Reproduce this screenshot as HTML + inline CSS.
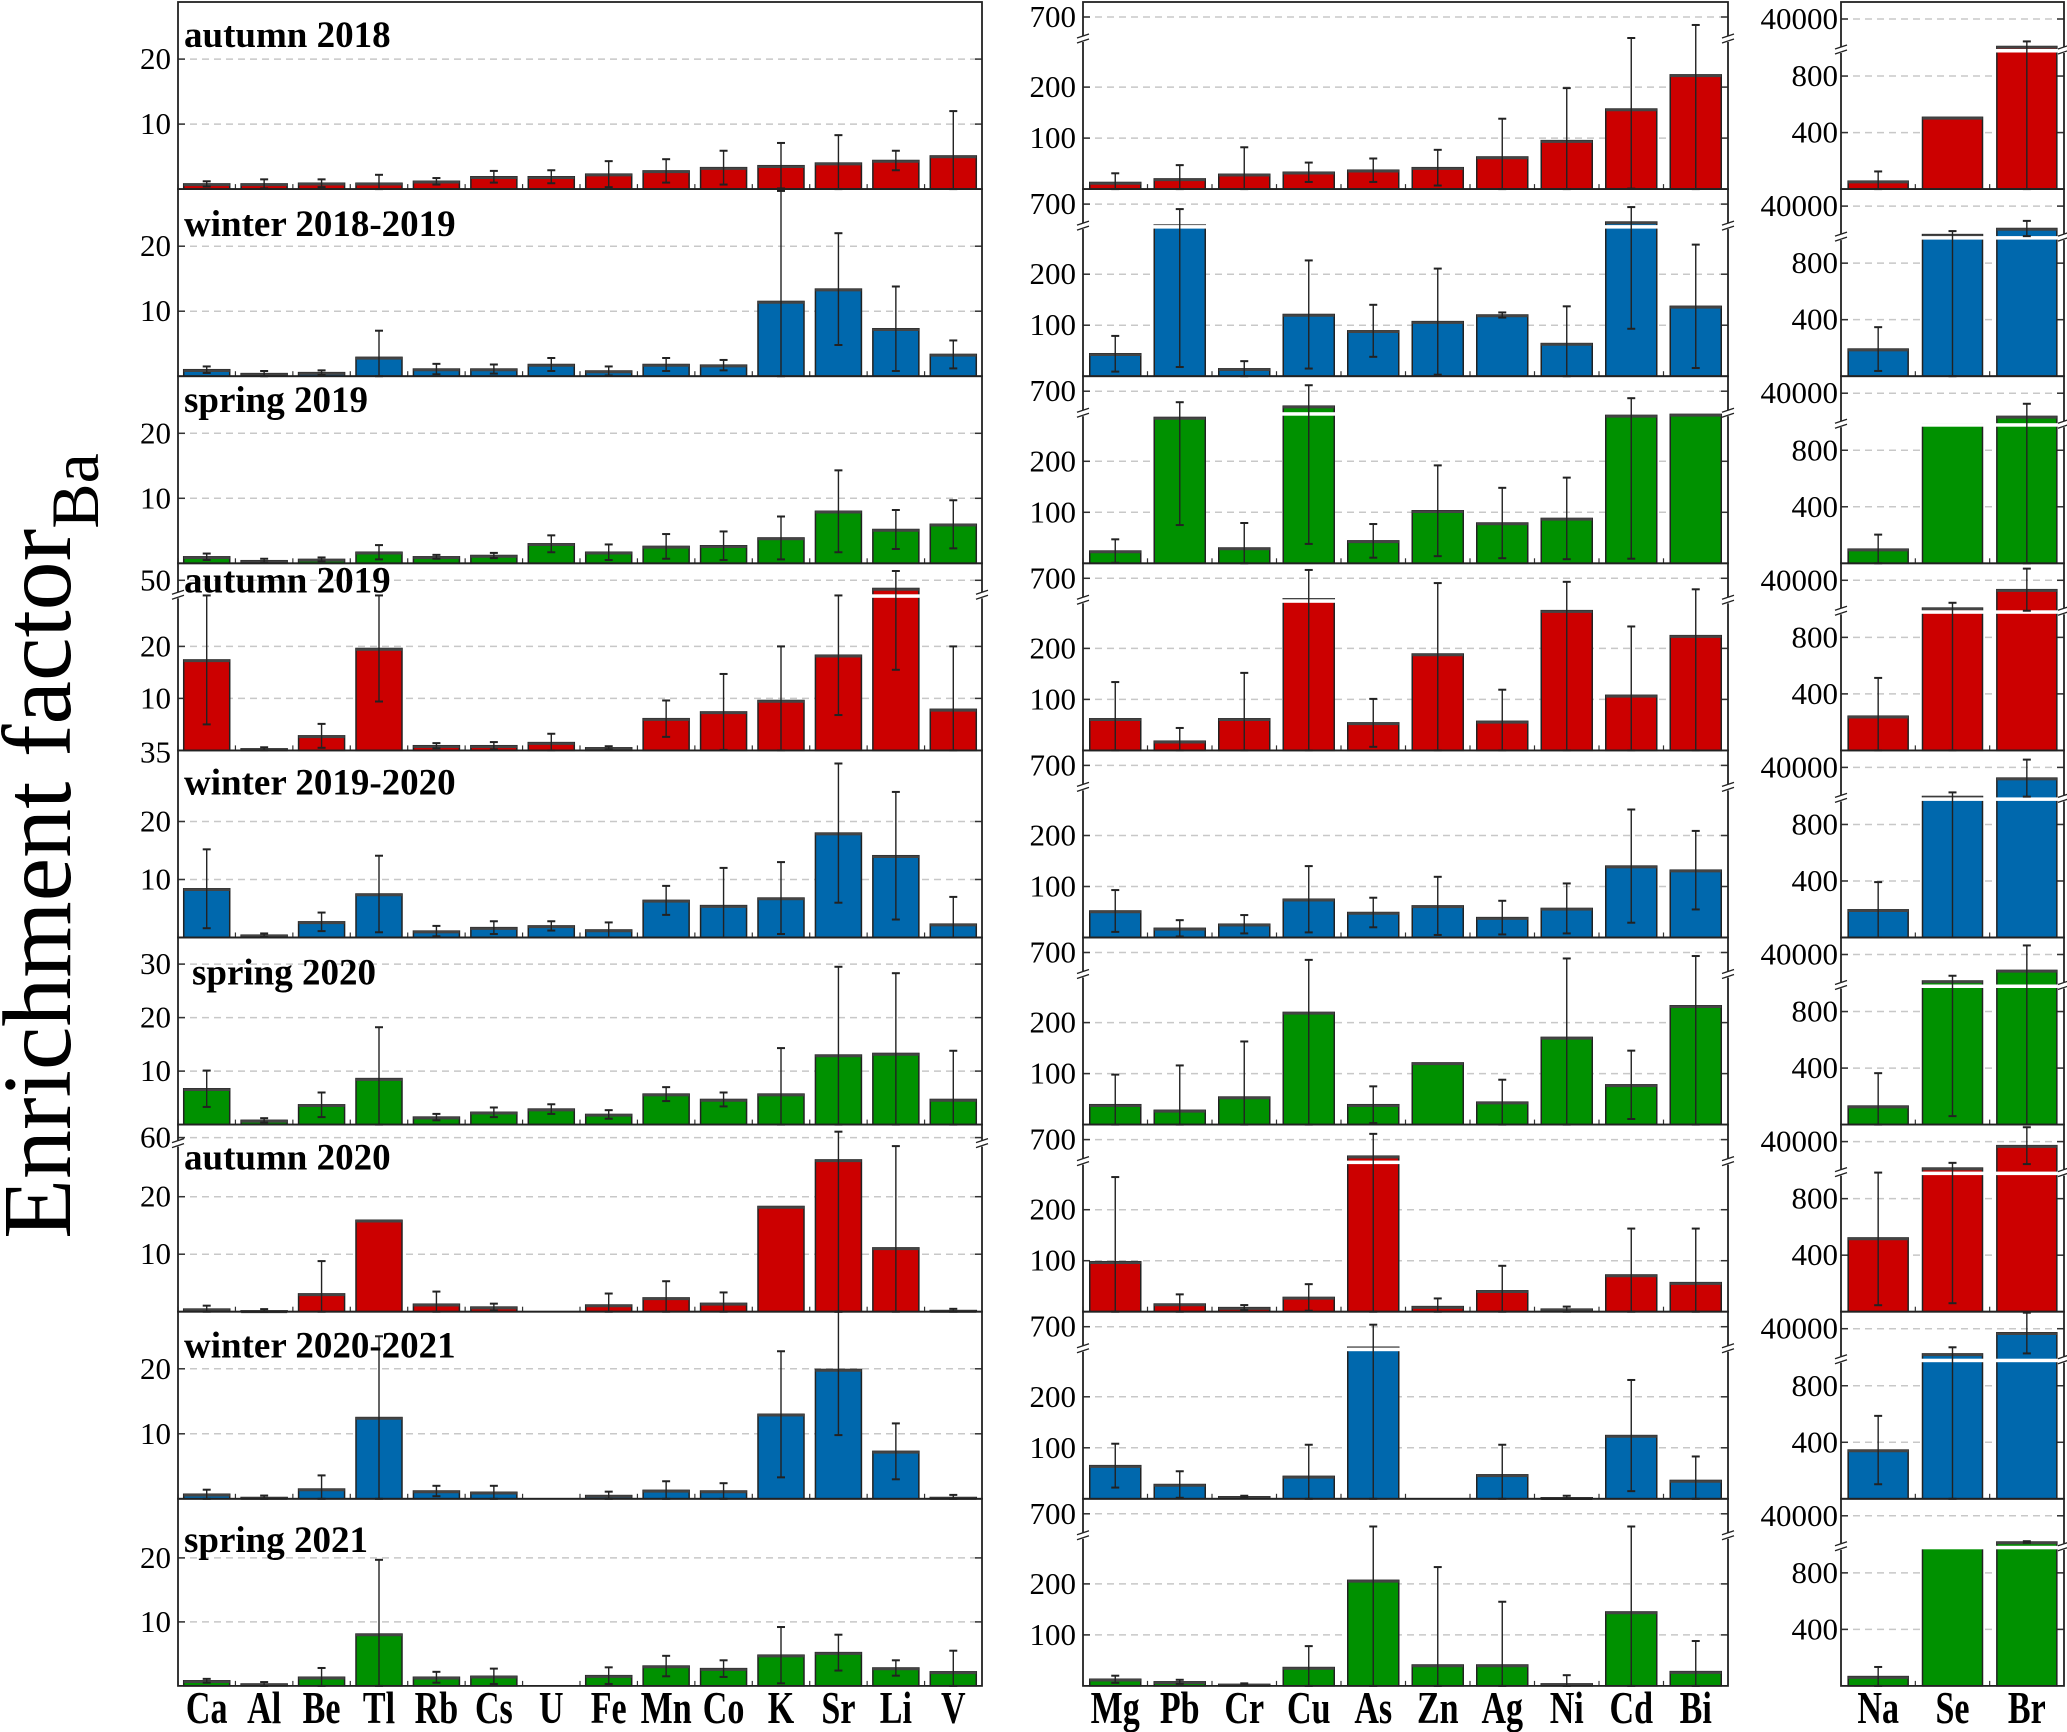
<!DOCTYPE html>
<html><head><meta charset="utf-8"><style>
html,body{margin:0;padding:0;background:#fff;}
svg{display:block;font-family:"Liberation Serif",serif;}
</style></head><body>
<svg id="chart" xmlns="http://www.w3.org/2000/svg" width="2067" height="1732" viewBox="0 0 2067 1732">
<text transform="translate(70,846) rotate(-90)" text-anchor="middle" font-size="98">Enrichment factor<tspan font-size="68" dy="28">Ba</tspan></text>
</svg>
<script>
const seasons = ["autumn 2018","winter 2018-2019","spring 2019","autumn 2019","winter 2019-2020","spring 2020","autumn 2020","winter 2020-2021","spring 2021"];
const leftCats = ["Ca","Al","Be","Tl","Rb","Cs","U","Fe","Mn","Co","K","Sr","Li","V"];
const midCats = ["Mg","Pb","Cr","Cu","As","Zn","Ag","Ni","Cd","Bi"];
const rightCats = ["Na","Se","Br"];
const leftVal = [
[0.8,0.8,0.9,0.9,1.2,1.9,1.9,2.3,2.8,3.3,3.6,4.0,4.4,5.1],
[1.0,0.4,0.55,2.9,1.1,1.1,1.8,0.8,1.8,1.7,11.5,13.4,7.3,3.35],
[1.0,0.4,0.6,1.7,1.0,1.2,3.0,1.7,2.6,2.7,3.9,8.0,5.2,6.0],
[17.4,0.3,2.8,19.6,0.9,0.9,1.5,0.5,6.1,7.4,9.6,18.3,39,7.9],
[8.4,0.4,2.7,7.5,1.1,1.7,2.0,1.3,6.4,5.5,6.8,18.0,14.1,2.3],
[6.7,0.8,3.7,8.6,1.4,2.3,2.9,1.9,5.7,4.7,5.7,13,13.3,4.7],
[0.45,0.15,3.1,15.9,1.3,0.8,0,1.16,2.4,1.45,18.3,26.4,11.1,0.2],
[0.7,0.2,1.5,12.5,1.2,1.0,0,0.5,1.3,1.2,13,19.9,7.3,0.2],
[0.8,0.3,1.35,8.1,1.35,1.5,0,1.6,3.1,2.7,4.8,5.2,2.8,2.2]];
const leftErr = [
[0.4,0.7,0.6,1.3,0.5,0.9,1.0,2.0,1.8,2.6,3.5,4.3,1.5,6.9],
[0.5,0.4,0.35,4.1,0.8,0.7,1.0,0.7,1.0,0.8,17,8.6,6.5,2.15],
[0.5,0.3,0.3,1.1,0.3,0.4,1.3,1.2,1.9,2.2,3.3,6.3,3.0,3.7],
[12.4,0.3,2.3,10.2,0.5,0.7,1.7,0.3,3.5,7.3,10.4,11.5,23.5,12.1],
[6.8,0.3,1.6,6.6,0.9,1.1,0.8,1.3,2.5,6.5,6.2,12,11,4.7],
[3.4,0.4,2.3,9.6,0.6,0.9,0.9,0.8,1.3,1.3,8.6,16.5,15,9.1],
[0.6,0.3,5.7,0,2.2,0.6,0,2.0,2.9,1.9,0,64,17.7,0.3],
[0.7,0.3,2.1,12.5,0.8,1.0,0,0.6,1.4,1.2,9.7,10.1,4.3,0.4],
[0.3,0.3,1.45,11.6,0.85,1.2,0,1.3,1.6,1.3,4.4,2.8,1.2,3.3]];
const midVal = [
[13,20,29,33,37,42,63,95,157,224],
[44,313,14.5,121,89,107,120,64,369,137],
[24,286,30,424,44,103,79,88,290,292],
[62,18,62,321,54,189,57,274,108,225],
[52,18,26,75,49,62,39,57,140,132],
[39,28,54,220,39,121,44,171,78,233],
[98,15,8,28,394,10,41,5,72,57],
[65,28,4,44,321,0,47,2,124,36],
[13,8,3,36,207,41,41,4,145,28]];
const midErr = [
[18,27,53,19,23,35,75,103,156,329],
[35,295,15,106,51,104,5,73,276,121],
[23,211,49,386,33,89,69,80,281,0],
[72,26,90,533,47,423,62,361,135,272],
[41,16,18,65,29,57,33,49,111,77],
[59,88,109,344,36,0,44,419,67,402],
[166,19,5,26,412,16,49,5,91,106],
[43,26,2,62,416,0,59,4,109,47],
[7,4,2,42,259,192,124,17,321,60]];
const rightVal = [
[56,508,5400],[192,4145,11800],[100,998,10800],[242,5000,28200],[196,3400,26500],
[131,6660,20000],[522,6660,34900],[345,8300,34900],[66,985,7000]];
const rightErr = [
[69,0,6400],[155,4400,9600],[103,0,15900],[271,6700,26500],[196,5150,23300],
[233,6600,31400],[476,6600,23200],[242,8300,26000],[68,0,1000]];
const leftTicks = [[20,10],[20,10],[20,10],[50,20,10],[20,10],[30,20,10],[60,20,10],[20,10],[20,10]];
const midTicks = [700,200,100];
const rightTicks = [40000,800,400];

const svg = document.getElementById('chart');
const NS = 'http://www.w3.org/2000/svg';
function mk(tag, attrs, parent){const e=document.createElementNS(NS,tag);for(const k in attrs)e.setAttribute(k,attrs[k]);(parent||svg).appendChild(e);return e;}
const colors = ["#cc0000","#0068ad","#009100"];
const TOP = 2, H = 187.1;
const leftScale = [
{ppu:6.5},{ppu:6.5},{ppu:6.5},
{ppu:5.2,brk:32,tv:50,ty:17},
{ppu:5.8},{ppu:5.35},
{ppu:5.75,brk:19,tv:60,ty:13},
{ppu:6.5},{ppu:6.4}];
const midScale = {ppu:0.51,brk:37,tv:700,ty:15};
const rightScale = {ppu:0.1413,brk:48,tv:40000,ty:17};

function makeY(s, top){
  const bottom = top+H;
  let U0=Infinity, U1=0;
  if(s.brk){U0=(H-s.brk)/s.ppu; U1=U0+(s.tv-U0)*s.brk/(s.brk-s.ty);}
  return {U0:U0, f:function(v){
    if(!s.brk || v<=U0) return Math.max(top, bottom - v*s.ppu);
    return Math.max(top+1, top+s.brk-(v-U0)/(U1-U0)*s.brk);
  }};
}

function panel(name, x0, x1, top, cats, vals, errs, s, ticks, color, labelX, labelTicks, barW){
  const g = mk('g',{});
  
  
  const bottom = top+H;
  const sc = makeY(s, top);
  const y = sc.f;
  ticks.forEach(function(t){
    const yy = y(t);
    const gl = mk('line',{x1:x0,x2:x1,y1:yy,y2:yy,stroke:'#c8c8c8','stroke-width':1.5,'stroke-dasharray':'7,5'},g);
    
    
    mk('line',{x1:x0,x2:x0+7,y1:yy,y2:yy,stroke:'#333','stroke-width':1.5},g);
    mk('line',{x1:x1-7,x2:x1,y1:yy,y2:yy,stroke:'#333','stroke-width':1.5},g);
    if(labelTicks){
      const tl = mk('text',{x:labelX,y:yy+10,'text-anchor':'end','font-size':31},g);
      
      
      tl.textContent = t;
    }
  });
  const slot = (x1-x0)/cats.length;
  cats.forEach(function(c,i){
    const cx = x0+slot*(i+0.5);
    const v = vals[i], e = errs[i];
    const yt = y(v);
    if(v>0){
      const b = mk('rect',{x:cx-barW/2,y:yt,width:barW,height:bottom-yt,fill:color,stroke:'#222','stroke-width':1.5},g);
      
      
      mk('line',{x1:cx-barW/2,x2:cx+barW/2,y1:yt+1,y2:yt+1,stroke:'#444','stroke-width':2.5},g);
      if(v>sc.U0){
        const wl = mk('rect',{x:cx-barW/2-1,y:top+s.brk-1,width:barW+2,height:3.5,fill:'#fff'},g);
        
        
      }
    }
    if(e>0){
      const yh = y(v+e), yl = y(Math.max(0,v-e));
      const eb = mk('line',{x1:cx,x2:cx,y1:yh,y2:yl,stroke:'#222','stroke-width':1.4},g);
      
      
      mk('line',{x1:cx-4,x2:cx+4,y1:yh,y2:yh,stroke:'#222','stroke-width':2},g);
      mk('line',{x1:cx-4,x2:cx+4,y1:yl,y2:yl,stroke:'#222','stroke-width':2},g);
    }
    mk('line',{x1:x0+slot*i,x2:x0+slot*i,y1:bottom-5,y2:bottom,stroke:'#333','stroke-width':1.2},g);
  });
  const fr = mk('rect',{x:x0,y:top,width:x1-x0,height:H,fill:'none',stroke:'#222','stroke-width':1.8},g);
  
  
  if(s.brk){
    [x0,x1].forEach(function(xx){
      const by = top+s.brk;
      mk('rect',{x:xx-4,y:by-3,width:8,height:6,fill:'#fff'},g);
      mk('line',{x1:xx-6,x2:xx+6,y1:by-1,y2:by-5,stroke:'#222','stroke-width':1.3},g);
      mk('line',{x1:xx-6,x2:xx+6,y1:by+4,y2:by,stroke:'#222','stroke-width':1.3},g);
    });
  }
  return g;
}

const lblY = [45,47,36,29,44,47,45,46,53];
const lblX = [184,184,184,184,184,192,184,184,184];
for(let r=0;r<9;r++){
  const top = TOP + r*H;
  const col = colors[r%3];
  panel('left-panel-'+(r+1), 178, 982, top, leftCats, leftVal[r], leftErr[r], leftScale[r], leftTicks[r], col, 171, true, 46);
  panel('middle-panel-'+(r+1), 1083, 1728, top, midCats, midVal[r], midErr[r], midScale, midTicks, col, 1076, true, 51);
  panel('right-panel-'+(r+1), 1841, 2064, top, rightCats, rightVal[r], rightErr[r], rightScale, rightTicks, col, 1838, true, 60);
  const t = mk('text',{x:lblX[r],y:top+lblY[r],'font-size':37,'font-weight':'bold'});
  
  
  t.textContent = seasons[r];
}
const odd = mk('text',{x:171,y:TOP+4*H+12,'text-anchor':'end','font-size':31});


odd.textContent = '35';

function catLabels(cats, x0, x1){
  const slot=(x1-x0)/cats.length;
  cats.forEach(function(c,i){
    const cx = x0+slot*(i+0.5);
    const t = mk('text',{transform:'translate('+cx+',1723) scale(0.74,1)','text-anchor':'middle','font-size':46,'font-weight':'bold'});
    
    
    t.textContent = c;
  });
}
catLabels(leftCats,178,982);
catLabels(midCats,1083,1728);
catLabels(rightCats,1841,2064);
</script>
</body></html>
